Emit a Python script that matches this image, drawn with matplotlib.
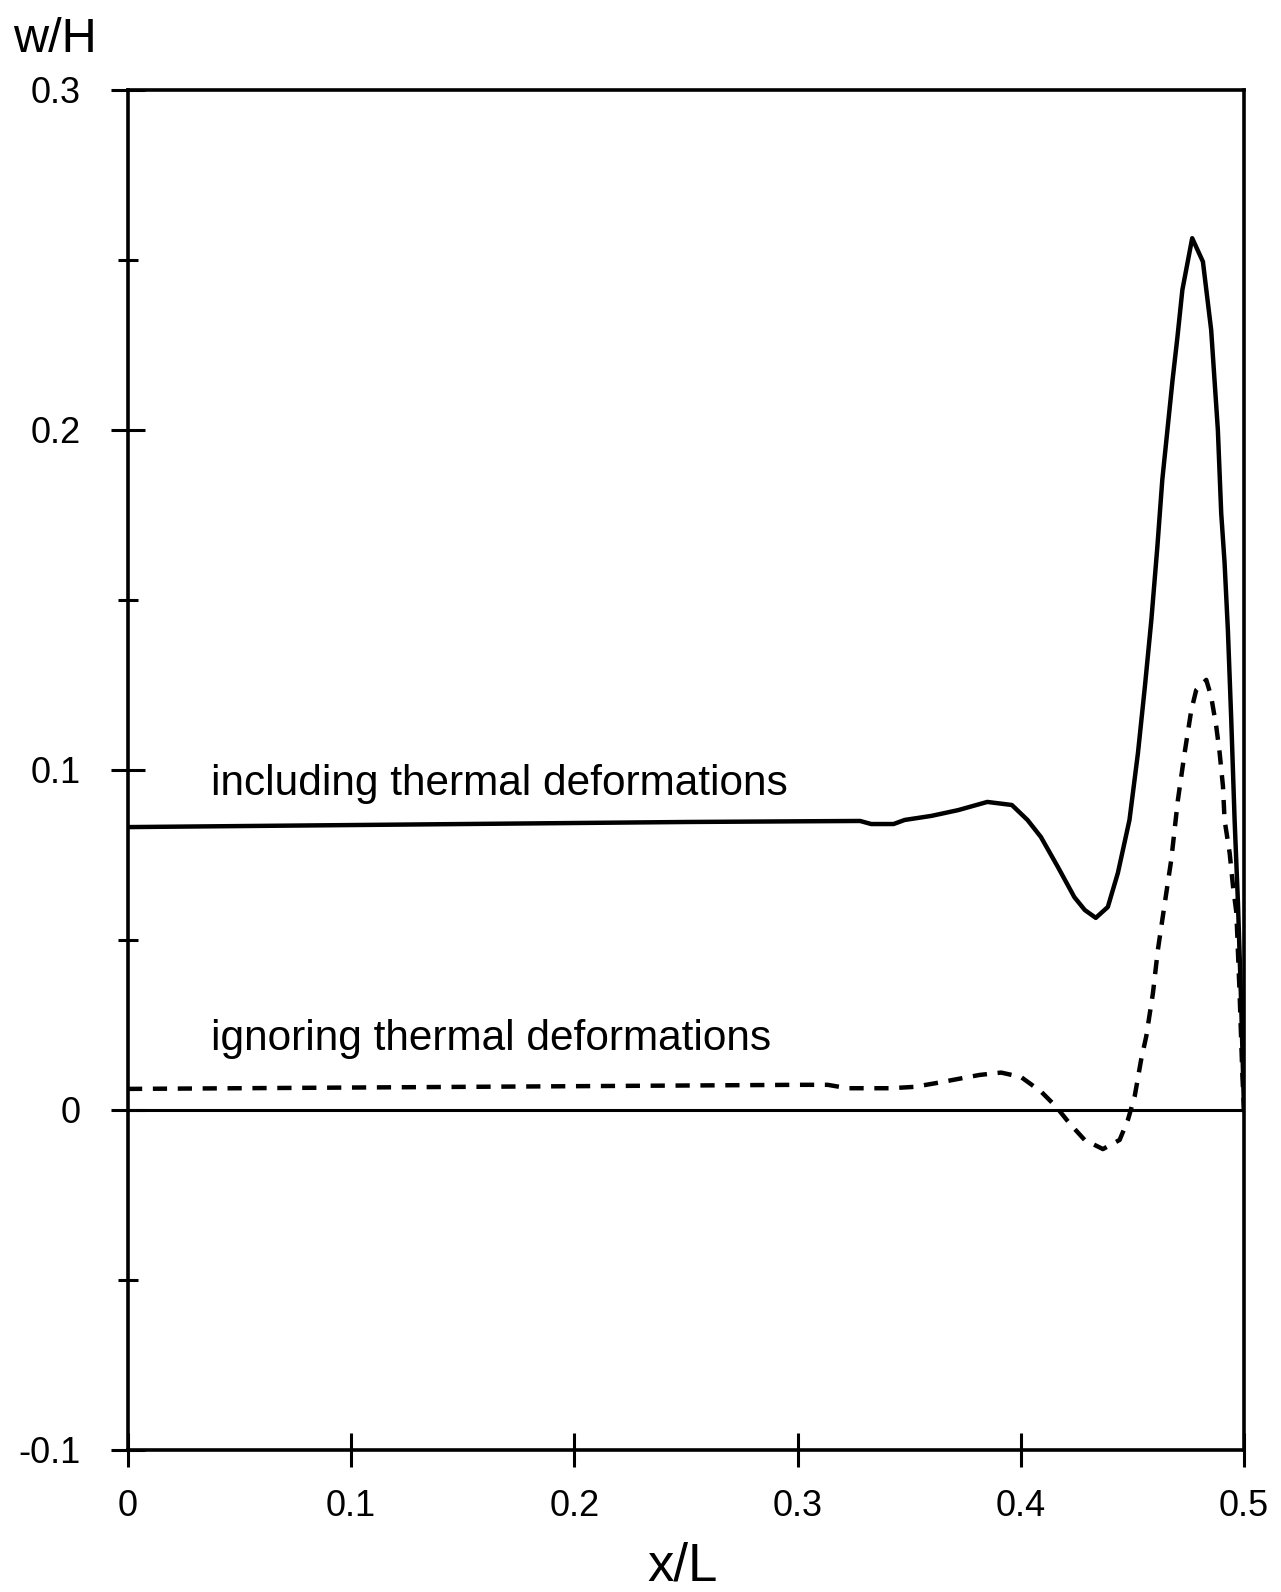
import numpy as np
import matplotlib.pyplot as plt
from matplotlib.ticker import MultipleLocator

plt.rcParams['font.family'] = ['Liberation Sans', 'DejaVu Sans']

# deflection along the plate, w/H against x/L
x_incl = [0, 0.05, 0.1, 0.15, 0.2, 0.25, 0.3, 0.328, 0.333, 0.343, 0.348, 0.360,
          0.372, 0.385, 0.396, 0.403, 0.409, 0.4166, 0.424, 0.4287, 0.4336, 0.439,
          0.4435, 0.4487, 0.4525, 0.4556, 0.4585, 0.4612, 0.4634, 0.4657, 0.468,
          0.4702, 0.4724, 0.4768, 0.4816, 0.4853, 0.4868, 0.4883, 0.4898, 0.4913,
          0.4928, 0.4943, 0.4958, 0.4973, 0.4988, 0.5]
w_incl = [0.0832, 0.0835, 0.0838, 0.0841, 0.0844, 0.0847, 0.0849, 0.0850, 0.0841,
          0.0841, 0.0853, 0.0865, 0.0882, 0.0906, 0.0897, 0.0853, 0.0803, 0.0715,
          0.0626, 0.0588, 0.0565, 0.0597, 0.0697, 0.0853, 0.105, 0.1245, 0.1441,
          0.1657, 0.1853, 0.2, 0.2147, 0.2274, 0.2412, 0.2564, 0.2495, 0.2294,
          0.2147, 0.2, 0.1755, 0.161, 0.141, 0.1147, 0.0853, 0.061, 0.03, 0.0]

x_ign = [0, 0.05, 0.1, 0.15, 0.2, 0.25, 0.3, 0.3135, 0.3224, 0.3314, 0.3418, 0.3523,
         0.362, 0.3717, 0.3815, 0.3912, 0.4001, 0.4091, 0.4158, 0.4218, 0.4286,
         0.4368, 0.4443, 0.448, 0.451, 0.4539, 0.4562, 0.4592, 0.4614, 0.4644,
         0.4674, 0.4704, 0.4734, 0.4764, 0.4786, 0.4831, 0.4853, 0.4876, 0.4891,
         0.4906, 0.4913, 0.4936, 0.4951, 0.4966, 0.498, 0.4993, 0.5]
w_ign = [0.0062, 0.0064, 0.0066, 0.0068, 0.007, 0.0072, 0.0074, 0.0074, 0.0064,
         0.0064, 0.0064, 0.0068, 0.0079, 0.0091, 0.0103, 0.011, 0.0097, 0.0054,
         0.001, -0.0039, -0.0088, -0.0115, -0.0088, -0.0029, 0.0039, 0.0147,
         0.0216, 0.0343, 0.047, 0.0603, 0.0735, 0.0912, 0.105, 0.1176, 0.1235,
         0.1265, 0.1216, 0.1127, 0.105, 0.0951, 0.0853, 0.0755, 0.0657, 0.058,
         0.035, 0.01, 0.0]

xticks = [0, 0.1, 0.2, 0.3, 0.4, 0.5]
xlabels = ['0', '0.1', '0.2', '0.3', '0.4', '0.5']
yticks = [-0.1, 0, 0.1, 0.2, 0.3]
ylabels = ['-0.1', '0', '0.1', '0.2', '0.3']

fig = plt.figure(figsize=(12.81, 15.92), dpi=100)
ax = fig.add_axes([0.0999, 0.0892, 0.8712, 0.8543])

ax.axhline(0, color='black', lw=2.2)
ax.plot(x_incl, w_incl, color='black', lw=3.2)
ax.plot(x_ign, w_ign, color='black', lw=3.2, dashes=(3.2, 2.4))

ax.text(0.037, 0.0925, 'including thermal deformations', fontsize=30.5, va='baseline')
ax.text(0.037, 0.0176, 'ignoring thermal deformations', fontsize=30.5, va='baseline')

ax.set_xlim(0, 0.5)
ax.set_ylim(-0.1, 0.3)
ax.set_xticks(xticks)
ax.set_xticklabels(xlabels, fontsize=26)
ax.set_yticks(yticks)
ax.set_yticklabels(ylabels, fontsize=26)
ax.yaxis.set_minor_locator(MultipleLocator(0.05))
ax.tick_params(axis='both', which='major', direction='inout', length=24, width=2.2)
ax.tick_params(axis='y', which='minor', direction='inout', length=14, width=2.2)
ax.tick_params(axis='x', pad=16)
ax.tick_params(axis='y', pad=22)
for s in ax.spines.values():
    s.set_linewidth(2.6)

fig.text(13 / 1281, 0.9673, 'w/H', fontsize=35, va='baseline', ha='left')
fig.text(0.533, 0.0075, 'x/L', fontsize=38, va='baseline', ha='center')

fig.savefig('out.png', dpi=100)
